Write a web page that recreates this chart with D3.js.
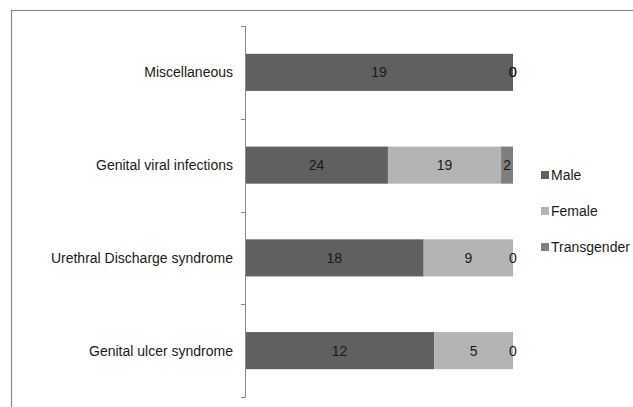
<!DOCTYPE html>
<html><head><meta charset="utf-8">
<script src="https://cdn.jsdelivr.net/npm/d3@7"></script>
<style>html,body{margin:0;padding:0;background:#fff;}svg{display:block;}</style>
</head><body>
<script>
const categories = ["Miscellaneous","Genital viral infections","Urethral Discharge syndrome","Genital ulcer syndrome"];
const seriesNames = ["Male","Female","Transgender"];
const male = [19,24,18,12];
const female = [0,19,9,5];
const transgender = [0,2,0,0];
const colors = ["#606060","#b4b4b4","#7e7e7e"];

const W=633,H=407;
const font = "'Liberation Sans',Arial,sans-serif";
const fs = 14;
const svg = d3.select("body").append("svg").attr("width",W).attr("height",H);
svg.append("rect").attr("x",11.5).attr("y",10.5).attr("width",700).attr("height",500)
  .attr("fill","none").attr("stroke","#8a8a8a").attr("stroke-width",1.2);

const rows = categories.map((c,i)=>({cat:c,Male:male[i],Female:female[i],Transgender:transgender[i]}));
const stack = d3.stack().keys(seriesNames).offset(d3.stackOffsetExpand);
const layers = stack(rows);

const x = d3.scaleLinear().domain([0,1]).range([245,513]);
const y = d3.scaleBand().domain(categories).range([26,397]).paddingInner(0.6).paddingOuter(0.3);

const g = svg.append("g");
layers.forEach((layer,li)=>{
  g.selectAll(null).data(layer).enter().append("rect")
    .attr("x",d=>x(d[0])).attr("width",d=>x(d[1])-x(d[0]))
    .attr("y",d=>y(d.data.cat)).attr("height",y.bandwidth())
    .attr("fill",colors[li]);
});
layers.forEach((layer,li)=>{
  if(li===0) return;
  g.selectAll(null).data(layer).enter().append("text")
    .attr("x",d=>(x(d[0])+x(d[1]))/2)
    .attr("y",d=>y(d.data.cat)+y.bandwidth()/2)
    .attr("dy","0.35em").attr("text-anchor","middle")
    .attr("font-family",font).attr("font-size",fs).attr("fill","#1a1a1a")
    .text(d=>d.data[layer.key]);
});
g.selectAll(null).data(layers[0]).enter().append("text")
    .attr("x",d=>(x(d[0])+x(d[1]))/2)
    .attr("y",d=>y(d.data.cat)+y.bandwidth()/2)
    .attr("dy","0.35em").attr("text-anchor","middle")
    .attr("font-family",font).attr("font-size",fs).attr("fill","#1a1a1a")
    .text(d=>d.data.Male);

// axis
const yAxisScale = d3.scaleBand().domain(categories).range([26,397]);
const axis = svg.append("g");
axis.append("line").attr("x1",245.5).attr("x2",245.5).attr("y1",26).attr("y2",397).attr("stroke","#8a8a8a");
const tickYs = categories.map(c=>yAxisScale(c)).concat([397]);
axis.selectAll(null).data(tickYs).enter().append("line")
  .attr("x1",241).attr("x2",245.5).attr("y1",d=>Math.round(d)+0.5).attr("y2",d=>Math.round(d)+0.5).attr("stroke","#8a8a8a");
axis.selectAll(null).data(categories).enter().append("text")
  .attr("x",233).attr("y",c=>yAxisScale(c)+yAxisScale.bandwidth()/2)
  .attr("dy","0.35em").attr("text-anchor","end")
  .attr("font-family",font).attr("font-size",fs).attr("fill","#1a1a1a").text(c=>c);

// legend
const leg = svg.append("g");
const legY = d3.scalePoint().domain(seriesNames).range([175,247]);
seriesNames.forEach((s,i)=>{
  leg.append("rect").attr("x",541).attr("y",legY(s)-4).attr("width",8).attr("height",8).attr("fill",colors[i]);
  leg.append("text").attr("x",551).attr("y",legY(s)).attr("dy","0.35em")
    .attr("font-family",font).attr("font-size",fs).attr("fill","#1a1a1a").text(s);
});
</script>
</body></html>
